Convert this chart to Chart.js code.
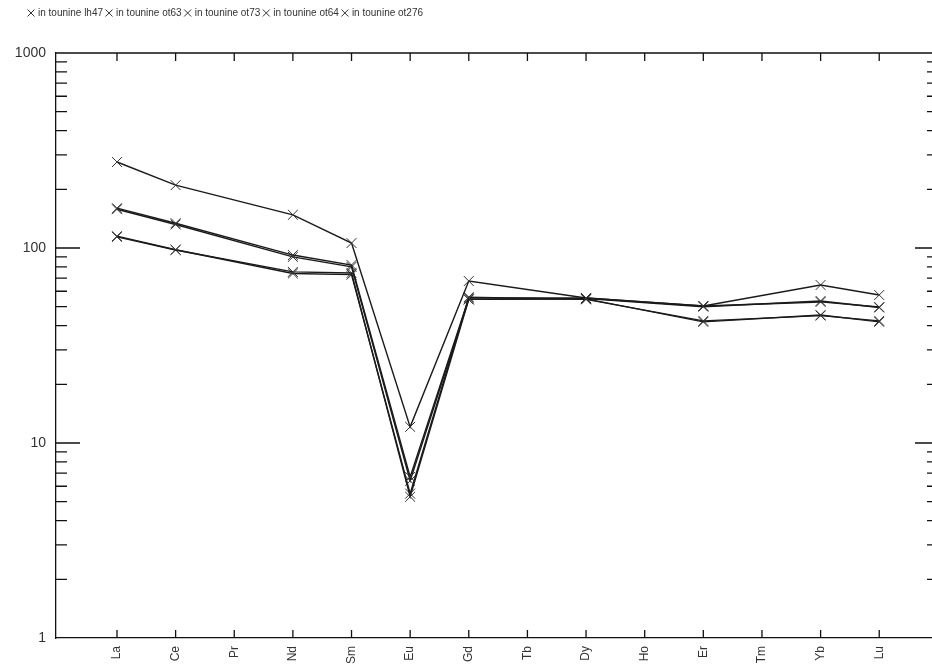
<!DOCTYPE html>
<html>
<head>
<meta charset="utf-8">
<script src="https://cdn.jsdelivr.net/npm/chart.js@4.4.0/dist/chart.umd.min.js"></script>
<style>
  html, body { margin: 0; padding: 0; background: #fff; overflow: hidden; }
  #contenedor { width: 932px; height: 670px; }
</style>
</head>
<body>
<div id="contenedor"><canvas id="grafico"></canvas></div>
<script>
// Elementos (tierras raras) en el eje X
const elementos = ['La', 'Ce', 'Pr', 'Nd', 'Sm', 'Eu', 'Gd', 'Tb', 'Dy', 'Ho', 'Er', 'Tm', 'Yb', 'Lu'];
const muestras = ['in tounine lh47', 'in tounine ot63', 'in tounine ot73', 'in tounine ot64', 'in tounine ot276'];

// valores normalizados (null = elemento no analizado)
const lh47  = [276, 210, null, 148, 106, 12.1, 67.7, null, 55.4, null, 50.4, null, 64.6, 57.4];
const ot63  = [160, 134, null, 92, 81.8, 6.7, 55.4, null, 55.4, null, 50.4, null, 52.9, 49.8];
const ot73  = [114, 97.7, null, 75.4, 74.5, 5.3, 54.5, null, 54.8, null, 41.8, null, 45.3, 41.8];
const ot64  = [158, 132, null, 90, 80, 6.4, 54.5, null, 55, null, 50, null, 53.5, 49.5];
const ot276 = [115, 98, null, 74, 73, 5.5, 56, null, 54.5, null, 42.3, null, 45, 42.3];

const ticksY = [1, 10, 100, 1000];

function puntos(valores) {
  return valores.map(function (v, i) { return { x: i, y: v }; });
}

function serie(nombre, valores) {
  return {
    label: nombre,
    data: puntos(valores),
    borderColor: '#1a1a1a',
    backgroundColor: '#1a1a1a',
    borderWidth: 1.4,
    pointStyle: 'crossRot',
    pointRadius: 7,
    pointBorderWidth: 1,
    pointBorderColor: '#333',
    spanGaps: true,
    tension: 0
  };
}

// marcas hacia adentro en los cuatro lados
const marcasInternas = {
  id: 'marcasInternas',
  afterDraw(chart) {
    const ctx = chart.ctx;
    const area = chart.chartArea;
    const x = chart.scales.x;
    const y = chart.scales.y;
    ctx.save();
    ctx.strokeStyle = '#111';
    ctx.lineWidth = 1.3;
    ctx.beginPath();
    ctx.moveTo(area.left, area.top);
    ctx.lineTo(area.right, area.top);
    for (let i = 0; i < elementos.length; i++) {
      const px = x.getPixelForValue(i);
      ctx.moveTo(px, area.top);
      ctx.lineTo(px, area.top + 8);
      ctx.moveTo(px, area.bottom);
      ctx.lineTo(px, area.bottom - 8);
    }
    y.ticks.forEach(function (t) {
      if (t.value <= 1 || t.value >= 1000) return;
      const py = y.getPixelForValue(t.value);
      const mayor = ticksY.includes(t.value);
      ctx.moveTo(area.left, py);
      ctx.lineTo(area.left + (mayor ? 24 : 11), py);
      ctx.moveTo(area.right, py);
      ctx.lineTo(area.right - (mayor ? 17 : 5), py);
    });
    ctx.stroke();
    ctx.restore();
  }
};

// altura fija de la leyenda y corrimiento a la derecha
const ajusteLeyenda = {
  id: 'ajusteLeyenda',
  beforeInit(chart) {
    const fitOriginal = chart.legend.fit;
    chart.legend.fit = function () {
      fitOriginal.bind(chart.legend)();
      this.height = 49;
    };
  },
  afterLayout(chart) {
    chart.legend.left = 25;
  }
};

const ctx = document.getElementById('grafico');

new Chart(ctx, {
  type: 'line',
  data: {
    datasets: [
      serie(muestras[0], lh47),
      serie(muestras[1], ot63),
      serie(muestras[2], ot73),
      serie(muestras[3], ot64),
      serie(muestras[4], ot276)
    ]
  },
  options: {
    responsive: true,
    maintainAspectRatio: false,
    animation: false,
    layout: { autoPadding: false, padding: { left: 0, top: 4, right: 0, bottom: 0 } },
    plugins: {
      tooltip: { enabled: false },
      legend: {
        position: 'top',
        align: 'start',
        labels: {
          usePointStyle: true,
          boxWidth: 4,
          boxHeight: 7,
          padding: 4,
          color: '#333',
          font: { family: "'Liberation Sans', Arial", size: 10 }
        }
      }
    },
    scales: {
      x: {
        type: 'linear',
        min: -1.04,
        max: 13.9,
        grid: { display: false, drawTicks: false },
        border: { display: true, color: '#111', width: 1.3 },
        afterBuildTicks: function (scale) {
          scale.ticks = elementos.map(function (e, i) { return { value: i }; });
        },
        afterFit: function (scale) {
          scale.height = 32;
          scale.paddingRight = 0;
          scale.paddingLeft = 0;
        },
        ticks: {
          autoSkip: false,
          minRotation: 90,
          maxRotation: 90,
          padding: 8,
          color: '#333',
          font: { family: "'Liberation Sans', Arial", size: 12 },
          callback: function (v) { return elementos[v]; }
        }
      },
      y: {
        type: 'logarithmic',
        min: 1,
        max: 1000,
        grid: { display: false, drawTicks: false },
        border: { display: true, color: '#111', width: 1.3 },
        afterBuildTicks: function (scale) {
          const lista = [];
          [1, 10, 100].forEach(function (d) {
            for (let k = 1; k < 10; k++) lista.push({ value: d * k });
          });
          lista.push({ value: 1000 });
          scale.ticks = lista;
        },
        afterFit: function (scale) { scale.width = 56; },
        ticks: {
          autoSkip: false,
          padding: 10,
          color: '#333',
          font: { family: "'Liberation Sans', Arial", size: 14 },
          callback: function (v) { return ticksY.includes(v) ? String(v) : ''; }
        }
      }
    }
  },
  plugins: [marcasInternas, ajusteLeyenda]
});
</script>
</body>
</html>
